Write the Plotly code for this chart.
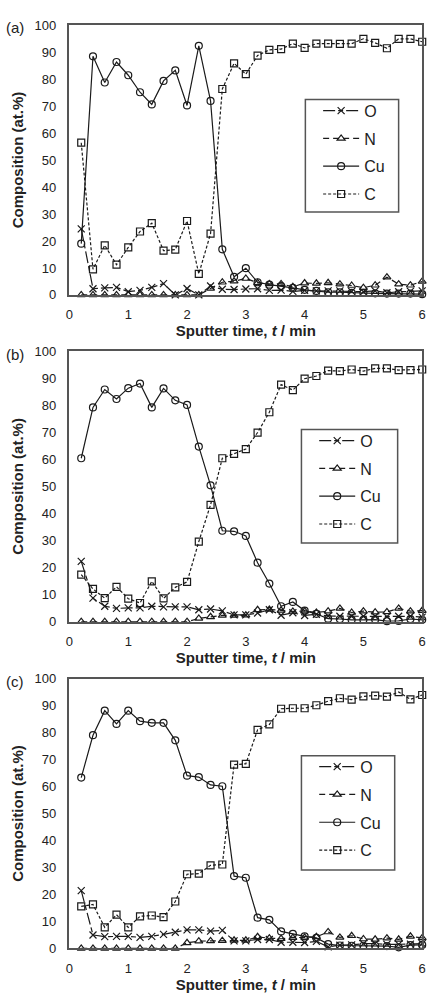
import plotly.graph_objects as go

# ---------------- data ----------------
time_min = [0.2, 0.4, 0.6, 0.8, 1.0, 1.2, 1.4, 1.6, 1.8, 2.0,
            2.2, 2.4, 2.6, 2.8, 3.0, 3.2, 3.4, 3.6, 3.8, 4.0,
            4.2, 4.4, 4.6, 4.8, 5.0, 5.2, 5.4, 5.6, 5.8, 6.0]

a_O = [24.5, 2.3, 2.6, 2.8, 1.2, 1.7, 2.8, 4.2, 0.0, 2.4, 0.0, 3.3, 2.1, 2.0, 2.2,
       2.3, 1.7, 1.8, 1.3, 1.7, 1.5, 1.5, 1.5, 1.3, 1.2, 1.5, 0.8, 1.2, 1.3, 1.5]
a_N = [0, 0, 0, 0, 0, 0, 0, 0, 0, 0, 0, 2.4, 4.7, 5.1, 6.1,
       4.5, 4.1, 4.1, 3.0, 4.4, 4.3, 4.5, 4.0, 3.5, 2.7, 3.6, 6.6, 4.0, 3.6, 5.0]
a_Cu = [19.0, 88.4, 78.7, 86.3, 81.4, 75.1, 70.6, 79.3, 83.2, 70.2, 92.3, 71.9, 16.9, 6.7, 9.9,
        4.7, 3.8, 3.3, 2.6, 1.9, 1.5, 1.0, 1.0, 0.8, 0.8, 0.6, 0.5, 0.5, 0.5, 0.3]
a_C = [56.4, 9.5, 18.4, 11.2, 17.6, 23.5, 26.6, 16.4, 16.8, 27.4, 7.8, 22.7, 76.3, 85.8, 81.8,
       88.7, 90.8, 91.1, 93.1, 91.5, 93.1, 93.1, 93.0, 93.1, 94.9, 93.4, 91.4, 94.9, 94.9, 93.8]

b_O = [22.3, 8.7, 5.7, 4.9, 5.1, 5.1, 5.7, 5.5, 5.5, 5.5, 4.4, 4.7, 4.0, 2.5, 2.5,
       3.2, 4.4, 2.4, 3.3, 2.3, 2.7, 2.1, 2.0, 2.0, 2.0, 2.0, 1.9, 2.0, 2.0, 1.7]
b_N = [0, 0, 0, 0, 0, 0, 0, 0, 0, 0, 1.2, 1.8, 2.3, 2.3, 2.4,
       4.4, 4.5, 4.2, 3.8, 3.9, 3.4, 3.9, 4.9, 3.4, 3.9, 3.5, 3.6, 4.9, 3.9, 4.1]
b_Cu = [60.4, 79.2, 85.8, 82.3, 86.3, 88.0, 79.2, 86.2, 81.8, 80.1, 64.7, 50.4, 33.6, 33.4, 31.7,
        21.8, 14.1, 5.7, 7.3, 4.1, 2.9, 1.1, 1.0, 0.7, 0.7, 0.8, 0.2, 0.3, 1.0, 0.7]
b_C = [17.4, 12.1, 8.7, 12.9, 8.5, 6.9, 14.9, 8.6, 12.7, 14.7, 29.6, 43.2, 60.4, 62.0, 63.8,
       69.9, 77.4, 87.6, 85.6, 89.8, 90.8, 92.8, 92.6, 93.2, 92.6, 93.6, 93.6, 93.0, 93.0, 93.2]

c_O = [21.4, 5.0, 4.4, 4.5, 4.5, 4.1, 4.5, 5.2, 6.0, 6.9, 6.9, 6.4, 6.7, 2.8, 2.8,
       3.3, 3.3, 2.3, 2.3, 2.2, 2.6, 0.6, 1.2, 1.3, 1.8, 1.8, 1.5, 1.5, 1.6, 1.8]
c_N = [0, 0, 0, 0, 0, 0, 0, 0, 0, 2.1, 2.7, 2.8, 2.9, 3.0, 3.0,
       4.3, 3.8, 3.6, 4.0, 4.1, 4.3, 6.1, 4.1, 4.7, 3.5, 3.4, 3.8, 3.4, 4.5, 3.9]
c_Cu = [63.3, 79.0, 88.1, 83.2, 88.1, 84.2, 83.6, 83.6, 77.1, 64.0, 63.5, 60.6, 60.1, 26.8, 26.2,
        11.4, 10.6, 6.3, 5.4, 4.5, 3.9, 1.6, 1.1, 1.0, 1.0, 1.0, 0.9, 0.4, 1.2, 1.3]
c_C = [15.6, 16.3, 7.8, 12.5, 7.8, 11.9, 12.2, 11.6, 17.4, 27.5, 27.7, 30.8, 31.1, 68.1, 68.4,
       81.0, 83.0, 88.8, 89.0, 89.0, 90.1, 91.6, 92.7, 92.2, 93.4, 93.7, 93.3, 95.0, 92.3, 93.9]

panel_labels = ["(a)", "(b)", "(c)"]
element_names = ["O", "N", "Cu", "C"]
x_ticks = [0, 1, 2, 3, 4, 5, 6]
y_ticks = [0, 10, 20, 30, 40, 50, 60, 70, 80, 90, 100]

panels = [
    [a_O, a_N, a_Cu, a_C],
    [b_O, b_N, b_Cu, b_C],
    [c_O, c_N, c_Cu, c_C],
]

# ---------------- styling ----------------
W, H = 436, 1006
INK = "#1a1a1a"
FRAME = "#555555"
FONT = "Liberation Sans, Arial, sans-serif"

styles = {
    "O": dict(dash="12px,3px,5px,3px", symbol="x-thin-open", size=7),
    "N": dict(dash="6px,4px", symbol="triangle-up-open", size=7),
    "Cu": dict(dash="solid", symbol="circle-open", size=7),
    "C": dict(dash="3px,2px", symbol="square-open", size=7),
}

# plot rectangles in pixels (left, top, right, bottom)
px_left, px_right = 66.7, 426.0
px_rows = [(18.3, 292.3), (349.3, 624.0), (681.7, 955.7)]
legend_boxes = [(307, 94, 402, 208), (303, 429, 401, 544), (303, 760, 398, 876)]


def fx(px):
    return px / W


def fy(py):
    return (H - py) / H


fig = go.Figure()
layout = dict(
    width=W, height=H,
    margin=dict(l=0, r=0, t=0, b=0),
    paper_bgcolor="white", plot_bgcolor="white",
    font=dict(family=FONT, color=INK),
    showlegend=True,
    annotations=[], shapes=[],
)

for i, series in enumerate(panels):
    sfx = "" if i == 0 else str(i + 1)
    xa, ya = "x" + sfx, "y" + sfx
    leg = "legend" + sfx
    for name, vals in zip(element_names, series):
        st = styles[name]
        fig.add_trace(go.Scatter(
            x=time_min, y=vals, name=name, mode="lines+markers",
            xaxis=xa, yaxis=ya, legend=leg, legendgroup=f"{name}{i}",
            cliponaxis=False,
            line=dict(color=INK, width=1.2, dash=st["dash"]),
            marker=dict(symbol=st["symbol"], size=st["size"], color=INK,
                        line=dict(color=INK, width=1.2)),
        ))
    top, bot = px_rows[i]
    layout["xaxis" + sfx] = dict(
        domain=[fx(px_left), fx(px_right)], anchor=ya, range=[0, 6],
        tickvals=x_ticks, ticks="", ticklabelstandoff=7,
        tickfont=dict(size=13, color="#222"),
        showline=True, linecolor=FRAME, linewidth=1.5, mirror=True,
        showgrid=False, zeroline=False,
        title=dict(text="<b>Sputter time, <i>t</i> / min</b>",
                   font=dict(size=15, color="#222"), standoff=4),
    )
    layout["yaxis" + sfx] = dict(
        domain=[fy(bot), fy(top)], anchor=xa, range=[0, 100],
        tickvals=y_ticks, ticks="", ticklabelstandoff=9,
        tickfont=dict(size=13, color="#222"),
        showline=True, linecolor=FRAME, linewidth=1.5, mirror=True,
        showgrid=False, zeroline=False,
        title=dict(text="<b>Composition (at.%)</b>",
                   font=dict(size=15, color="#222"), standoff=7),
    )
    lx0, ly0, lx1, ly1 = legend_boxes[i]
    layout["shapes"].append(dict(
        type="rect", xref="paper", yref="paper",
        x0=fx(lx0), x1=fx(lx1), y0=fy(ly1), y1=fy(ly0),
        line=dict(color=FRAME, width=1.5), fillcolor="white", layer="below",
    ))
    layout[leg] = dict(
        x=fx(lx0 + 13), y=fy(ly0 - 6), xanchor="left", yanchor="top",
        bgcolor="rgba(0,0,0,0)", borderwidth=0,
        font=dict(size=16, color="#222"),
        tracegroupgap=4, itemwidth=36,
    )
    layout["annotations"].append(dict(
        text=panel_labels[i], xref="paper", yref="paper",
        x=0, y=fy(top + 3), xanchor="left", yanchor="middle",
        showarrow=False, font=dict(size=15, color="#222"),
    ))

fig.update_layout(**layout)
fig.write_html("out.html")
